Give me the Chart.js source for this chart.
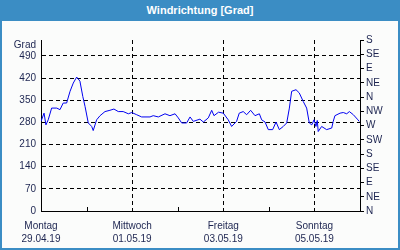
<!DOCTYPE html>
<html>
<head>
<meta charset="utf-8">
<script src="https://cdn.jsdelivr.net/npm/chart.js@4.4.1/dist/chart.umd.min.js"></script>
<style>
  body { margin: 0; background: #fff; }
  #frame { position: relative; width: 400px; height: 250px; box-sizing: border-box; border: 2px solid #3b8dc4; border-top: 0; background: #fbfcfb; }
  #head { position: absolute; left: -2px; top: 0; width: 400px; height: 21px; background: #3b8dc4; color: #fff; font: bold 11px "Liberation Sans", Arial, sans-serif; text-align: center; line-height: 21px; }
  #box { position: absolute; left: 0; top: 21px; width: 396px; height: 227px; }
</style>
</head>
<body>
<div id="frame">
  <div id="head">Windrichtung [Grad]</div>
  <div id="box"><canvas id="chart"></canvas></div>
</div>
<script>
// stunden ab Mo 29.04.19 00:00
const hours = [0, 1.6, 2.6, 3.8, 5.6, 8.3, 10, 11.7, 13.5, 15.3, 17, 18.8, 20.5, 22, 23.2, 24.9, 26.7, 27.5, 29.3, 31.1,
  33.7, 36.3, 38.4, 40.7, 43.3, 46, 47.8, 50.4, 53, 57.4, 59.1, 61.8, 65.3, 67.9, 70.6, 72.3, 74.1, 76.7, 78.5, 80.2,
  83.7, 85.5, 88.1, 89.9, 91.1, 93.5, 96, 98.6, 100.4, 103, 104.4, 106.5, 108.3, 110.4, 112.7, 115, 116.2, 118, 119.7, 122,
  123.8, 125.5, 127.6, 129.4, 130.8, 132, 134.3, 136, 138.1, 139.9, 141.3, 142.6, 143.8, 144.8, 145.5, 146, 147.8, 150.4, 153.1, 153.9,
  154.8, 157.5, 159.2, 161, 162.4, 164.5, 166.6, 167.6];
const grad = [283, 309, 272, 288, 325, 325, 320, 341, 341, 378, 404, 423, 410, 362, 330, 278, 267, 254, 288, 301,
  314, 318, 322, 314, 314, 307, 311, 304, 297, 297, 301, 297, 307, 301, 307, 294, 278, 278, 297, 283,
  290, 281, 294, 318, 301, 312, 309, 288, 267, 283, 309, 314, 304, 318, 301, 307, 288, 281, 257, 257,
  281, 257, 267, 278, 325, 378, 383, 373, 346, 325, 278, 272, 288, 267, 286, 251, 267, 257, 262, 283,
  301, 309, 311, 307, 314, 304, 290, 283];

const dayNames = ['Montag', 'Dienstag', 'Mittwoch', 'Donnerstag', 'Freitag', 'Samstag', 'Sonntag', 'Montag'];
const dates = ['29.04.19', '30.04.19', '01.05.19', '02.05.19', '03.05.19', '04.05.19', '05.05.19', '06.05.19'];
const leftTicks = [0, 70, 140, 210, 280, 350, 420, 490];
const compass = ['N', 'NE', 'E', 'SE', 'S', 'SW', 'W', 'NW', 'N', 'NE', 'E', 'SE', 'S'];

const textColor = '#1c2450';
const font = { family: '"Liberation Sans", Arial, sans-serif', size: 10 };

// kleine striche nach innen an den ungeraden tagen
const innerTicks = {
  id: 'innerTicks',
  afterDatasetsDraw(chart) {
    const x = chart.scales.x;
    const ctx = chart.ctx;
    const bottom = chart.chartArea.bottom;
    ctx.save();
    ctx.strokeStyle = '#000';
    ctx.lineWidth = 1;
    [24, 72, 120].forEach((h) => {
      const px = Math.round(x.getPixelForValue(h)) + 0.5;
      ctx.beginPath();
      ctx.moveTo(px, bottom);
      ctx.lineTo(px, bottom - 4);
      ctx.stroke();
    });
    ctx.restore();
  },
};

const points = hours.map((h, i) => ({ x: h, y: grad[i] }));

new Chart(document.getElementById('chart'), {
  type: 'line',
  data: {
    datasets: [{
      data: points,
      borderColor: '#0000f0',
      borderWidth: 1,
      pointRadius: 0,
      tension: 0,
      fill: false,
    }],
  },
  options: {
    responsive: true,
    maintainAspectRatio: false,
    animation: false,
    layout: { padding: { top: 19, left: 0, right: 0, bottom: 0 } },
    plugins: { legend: { display: false }, tooltip: { enabled: false } },
    scales: {
      x: {
        type: 'linear',
        min: 0,
        max: 168,
        afterBuildTicks: (scale) => { scale.ticks = dayNames.map((d, i) => ({ value: i * 24 })); },
        afterFit: (scale) => { scale.height = 37; },
        ticks: {
          autoSkip: false,
          maxRotation: 0,
          padding: 9,
          color: textColor,
          font: { ...font, lineHeight: 1.3 },
          callback: (v) => {
            const i = Math.round(v / 24);
            return (i % 2 === 0 && i < 7) ? [dayNames[i], dates[i]] : '';
          },
        },
        grid: {
          drawTicks: false,
          color: (c) => ([48, 96, 144].includes(c.tick && c.tick.value) ? '#000' : 'rgba(0,0,0,0)'),
        },
        border: { color: '#000', width: 1, dash: [4, 3] },
      },
      y: {
        position: 'left',
        min: 0,
        max: 540,
        // "Grad" sitzt etwas unter der oberkante
        afterBuildTicks: (scale) => { scale.ticks = leftTicks.concat([525]).map((v) => ({ value: v })); },
        afterFit: (scale) => { scale.width = 39; },
        ticks: {
          autoSkip: false,
          padding: 5,
          color: textColor,
          font: font,
          callback: (v) => (v === 525 ? 'Grad' : v),
        },
        grid: {
          drawTicks: false,
          color: (c) => {
            const v = c.tick && c.tick.value;
            return (v > 0 && v < 525) ? '#000' : 'rgba(0,0,0,0)';
          },
        },
        border: { color: '#000', width: 1, dash: [4, 3] },
      },
      y2: {
        position: 'right',
        min: 0,
        max: 540,
        afterBuildTicks: (scale) => { scale.ticks = compass.map((c, i) => ({ value: i * 45 })); },
        afterFit: (scale) => { scale.width = 38; },
        ticks: {
          autoSkip: false,
          padding: 2,
          color: textColor,
          font: font,
          callback: (v) => compass[Math.round(v / 45)],
        },
        grid: {
          drawOnChartArea: false,
          drawTicks: true,
          tickLength: 4,
          tickColor: '#000',
        },
        border: { color: '#000', width: 1 },
      },
    },
  },
  plugins: [innerTicks],
});
</script>
</body>
</html>
